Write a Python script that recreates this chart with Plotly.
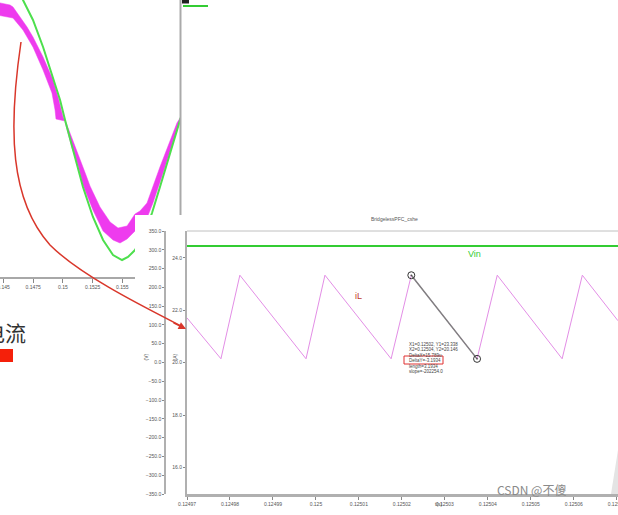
import plotly.graph_objects as go

W, H = 618, 515

# ---------------- top-left window: one mains cycle ----------------
sine_tick_vals = [0.145, 0.1475, 0.15, 0.1525, 0.155]
sine_tick_text = ["0.145", "0.1475", "0.15", "0.1525", "0.155"]

vin_sine_t = [0.14471, 0.14555, 0.14664, 0.14748, 0.14833, 0.14917, 0.14976, 0.15018,
              0.15085, 0.15169, 0.15253, 0.15338, 0.15422, 0.15498, 0.15548, 0.15607,
              0.15691, 0.15750, 0.15817, 0.15902, 0.15969, 0.15994]
vin_sine_v = [363, 330, 264, 220, 160.6, 94.6, 44, 0,
              -66, -147.4, -213.4, -264, -297, -308, -301.4, -286,
              -246, -204.6, -147.4, -72.6, -11, 6.6]

pos_outer_t = [0.14445, 0.14471, 0.14555, 0.14580, 0.14698, 0.14748, 0.14833, 0.14917, 0.14959, 0.15001, 0.15018]
pos_outer_v = [259, 257.4, 253, 248.6, 204.6, 182.6, 138.6, 88, 50.6, 6.6, 0]
pos_inner_t = [0.14445, 0.14471, 0.14580, 0.14664, 0.14748, 0.14833, 0.14908, 0.14934, 0.14942, 0.15018]
pos_inner_v = [231, 231, 224.4, 198, 160.6, 110, 59.4, 22, 2.2, -2.2]

neg_inner_t = [0.15018, 0.15077, 0.15144, 0.15194, 0.15228, 0.15312, 0.15397, 0.15464,
               0.15540, 0.15607, 0.15649, 0.15708, 0.15817, 0.15902, 0.15960, 0.15986]
neg_inner_v = [0, -39.6, -83.6, -121, -145.2, -191.4, -224.4, -237.6,
               -233.2, -206.8, -200.2, -182.6, -103.4, -44, -6.6, 4.4]
neg_outer_t = [0.15018, 0.15077, 0.15127, 0.15169, 0.15253, 0.15338, 0.15422, 0.15481,
               0.15540, 0.15607, 0.15649, 0.15708, 0.15758, 0.15843, 0.15927, 0.15969, 0.15986]
neg_outer_v = [-4.4, -61.6, -99, -143, -198, -244.2, -264, -270.6,
               -261.8, -244.2, -237.6, -215.6, -182.6, -116.6, -50.6, -15.4, 0]

# ---------------- zoomed window: switching ripple ----------------
x_tick_vals = [0.12497, 0.12498, 0.12499, 0.125, 0.12501, 0.12502,
               0.12503, 0.12504, 0.12505, 0.12506, 0.12507]
x_tick_text = ["0.12497", "0.12498", "0.12499", "0.125", "0.12501", "0.12502",
               "0.12503", "0.12504", "0.12505", "0.12506", "0.12507"]
a_ticks = [16, 18, 20, 22, 24]
v_ticks = [-350, -300, -250, -200, -150, -100, -50, 0, 50, 100, 150, 200, 250, 300, 350]

iL_t = [0.12497, 0.1249779, 0.1249823, 0.1249977, 0.1250021, 0.1250175,
        0.1250222, 0.1250375, 0.1250422, 0.1250573, 0.1250620, 0.1250703]
iL_v = [21.71, 20.15, 23.34, 20.15, 23.34, 20.15,
        23.338, 20.146, 23.34, 20.15, 23.34, 21.60]

vin_dc_t = [0.12497, 0.1250703]
vin_dc_v = [310, 310]

cursor_t = [0.1250222, 0.1250375]
cursor_v = [23.338, 20.146]
cursor_lines = ["X1=0.12502, Y1=23.338", "X2=0.12504, Y2=20.146", "DeltaX=15.789u",
                "DeltaY=-3.1934", "length=3.1934", "slope=-202254.0"]


def px(x):
    return x / W


def py(y):
    return 1 - y / H


MAG = "#ee3bee"
GRN = "#4ddf4d"
AX = "#b0b0b0"
TF = dict(family="Liberation Sans, Arial, sans-serif", size=5, color="#555")

fig = go.Figure()

band_t = pos_outer_t + pos_inner_t[::-1] + [None] + neg_inner_t + neg_outer_t[::-1]
band_v = pos_outer_v + pos_inner_v[::-1] + [None] + neg_inner_v + neg_outer_v[::-1]
for xa, ya in (("x3", "y3"), ("x4", "y4")):
    fig.add_trace(go.Scatter(x=band_t, y=band_v, xaxis=xa, yaxis=ya, mode="lines",
                             fill="toself", fillcolor=MAG, line=dict(color=MAG, width=0.5),
                             hoverinfo="skip", showlegend=False))
    fig.add_trace(go.Scatter(x=vin_sine_t, y=vin_sine_v, xaxis=xa, yaxis=ya, mode="lines",
                             line=dict(color=GRN, width=2), hoverinfo="skip", showlegend=False))

fig.add_trace(go.Scatter(x=vin_dc_t, y=vin_dc_v, xaxis="x", yaxis="y2", mode="lines",
                         line=dict(color="#33cc33", width=2), showlegend=False))
fig.add_trace(go.Scatter(x=iL_t, y=iL_v, xaxis="x", yaxis="y", mode="lines",
                         line=dict(color="#e38ee6", width=1), showlegend=False))
fig.add_trace(go.Scatter(x=cursor_t, y=cursor_v, xaxis="x", yaxis="y", mode="lines+markers",
                         line=dict(color="#808080", width=1.5),
                         marker=dict(symbol="circle-open-dot", size=7, color="#333",
                                     line=dict(width=1)),
                         showlegend=False))

shapes = []
shapes.append(dict(type="line", xref="paper", yref="paper", x0=px(187), x1=1,
                   y0=py(231), y1=py(231), line=dict(color="#c0c0c0", width=1)))
shapes.append(dict(type="line", xref="paper", yref="paper", x0=px(180.5), x1=px(180.5),
                   y0=py(0), y1=py(215), line=dict(color="#aaaaaa", width=2)))
shapes.append(dict(type="rect", xref="paper", yref="paper", x0=px(182), x1=px(189),
                   y0=py(3.5), y1=py(0), fillcolor="#222", line=dict(width=0)))
shapes.append(dict(type="line", xref="paper", yref="paper", x0=px(183), x1=px(208),
                   y0=py(6), y1=py(6), line=dict(color="#33cc33", width=2)))
shapes.append(dict(type="rect", xref="paper", yref="paper", x0=px(404), x1=px(443),
                   y0=py(364), y1=py(356), line=dict(color="#e03030", width=1)))
shapes.append(dict(type="rect", xref="paper", yref="paper", x0=px(0), x1=px(13),
                   y0=py(362), y1=py(349), fillcolor="#f5200a", line=dict(width=0)))
shapes.append(dict(type="path", xref="paper", yref="paper",
                   path=f"M {px(611)},{py(494)} L {px(618)},{py(450)} L {px(618)},{py(494)} Z",
                   fillcolor="#e4e4e4", line=dict(width=0)))
pts = [(21, 42), (8, 130), (10, 200), (50, 245), (80, 275), (140, 305), (183, 327)]
c = [f"{px(a)},{py(b)}" for a, b in pts]
arrow_path = f"M {c[0]} C {c[1]} {c[2]} {c[3]} C {c[4]} {c[5]} {c[6]}"
shapes.append(dict(type="path", xref="paper", yref="paper", path=arrow_path,
                   line=dict(color="#d9372b", width=1.5), layer="above"))

ann = []
ann.append(dict(x=px(186), y=py(329), xref="paper", yref="paper", text="", showarrow=True,
                ax=-14, ay=-7, arrowhead=2, arrowsize=1, arrowwidth=1.5, arrowcolor="#d9372b"))
ann.append(dict(x=px(28), y=py(332), xref="paper", yref="paper", text="电流", showarrow=False,
                xanchor="right", yanchor="middle",
                font=dict(family="Noto Sans CJK SC", size=21, color="#333")))
ann.append(dict(x=px(420), y=py(219), xref="paper", yref="paper", text="BridgelessPFC_cshe",
                showarrow=False, font=TF))
ann.append(dict(x=px(140), y=py(363), xref="paper", yref="paper", text="(V)", textangle=-90,
                showarrow=False, font=TF))
ann.append(dict(x=px(169), y=py(363), xref="paper", yref="paper", text="(A)", textangle=-90,
                showarrow=False, font=TF))
ann.append(dict(x=px(445), y=py(509), xref="paper", yref="paper", text="t(s)",
                showarrow=False, font=TF))
ann.append(dict(x=px(358), y=py(296), xref="paper", yref="paper", text="iL", showarrow=False,
                font=dict(family="Liberation Sans, Arial", size=9, color="#c0392b")))
ann.append(dict(x=px(483), y=py(254), xref="paper", yref="paper", text="Vin", showarrow=False,
                font=dict(family="Liberation Sans, Arial", size=9, color="#33cc33")))
for i, line in enumerate(cursor_lines):
    ann.append(dict(x=px(407), y=py(344 + i * 5.5), xref="paper", yref="paper", text=line,
                    showarrow=False, xanchor="left", yanchor="middle",
                    font=dict(family="Liberation Sans, Arial", size=4.5, color="#444")))
ann.append(dict(x=px(568), y=py(500), xref="paper", yref="paper", text="CSDN @不傻",
                showarrow=False, font=dict(family="Noto Sans CJK SC", size=12, color="#8a8a8a")))

fig.update_layout(
    width=W, height=H, autosize=False,
    margin=dict(l=0, r=0, t=0, b=0, pad=0),
    paper_bgcolor="white", plot_bgcolor="white",
    showlegend=False,
    shapes=shapes, annotations=ann,
    xaxis=dict(domain=[px(187), 1], range=[0.12497, 0.1250703], anchor="y", automargin=False,
               showline=True, linecolor=AX, linewidth=3, ticks="outside", ticklen=3,
               tickcolor="#888", tickvals=x_tick_vals, ticktext=x_tick_text, tickfont=TF,
               showgrid=False, zeroline=False, ticklabeloverflow="allow"),
    yaxis=dict(domain=[py(494), py(231)], range=[14.9885, 25.0267], anchor="x", automargin=False,
               showline=True, linecolor=AX, linewidth=2, ticks="outside", ticklen=2,
               tickcolor="#888", tickvals=a_ticks, tickformat=".1f", tickfont=TF,
               showgrid=False, zeroline=False),
    yaxis2=dict(overlaying="y", anchor="free", position=px(165), side="left", automargin=False,
                range=[-350, 350], showline=True, linecolor=AX, linewidth=1.5,
                ticks="outside", ticklen=2, tickcolor="#888", tickvals=v_ticks,
                tickformat=".1f", tickfont=TF, showgrid=False, zeroline=False),
    xaxis3=dict(domain=[0, px(135)], range=[0.144705, 0.156069], anchor="y3", automargin=False,
                showline=True, linecolor="#a8a8a8", linewidth=2, ticks="outside", ticklen=4,
                tickcolor="#888", tickvals=sine_tick_vals, ticktext=sine_tick_text,
                tickfont=TF, showgrid=False, zeroline=False, ticklabeloverflow="allow"),
    yaxis3=dict(domain=[py(277), 1], range=[-345.4, 264], anchor="x3", visible=False,
                automargin=False),
    xaxis4=dict(domain=[px(135), px(180)], range=[0.156069, 0.159857], anchor="y4",
                visible=False, automargin=False),
    yaxis4=dict(domain=[py(215), 1], range=[-209, 264], anchor="x4", visible=False,
                automargin=False),
)

fig.write_html("out.html", config={"displayModeBar": False},
               post_script="document.body.style.margin='0';document.body.style.overflow='hidden';")
